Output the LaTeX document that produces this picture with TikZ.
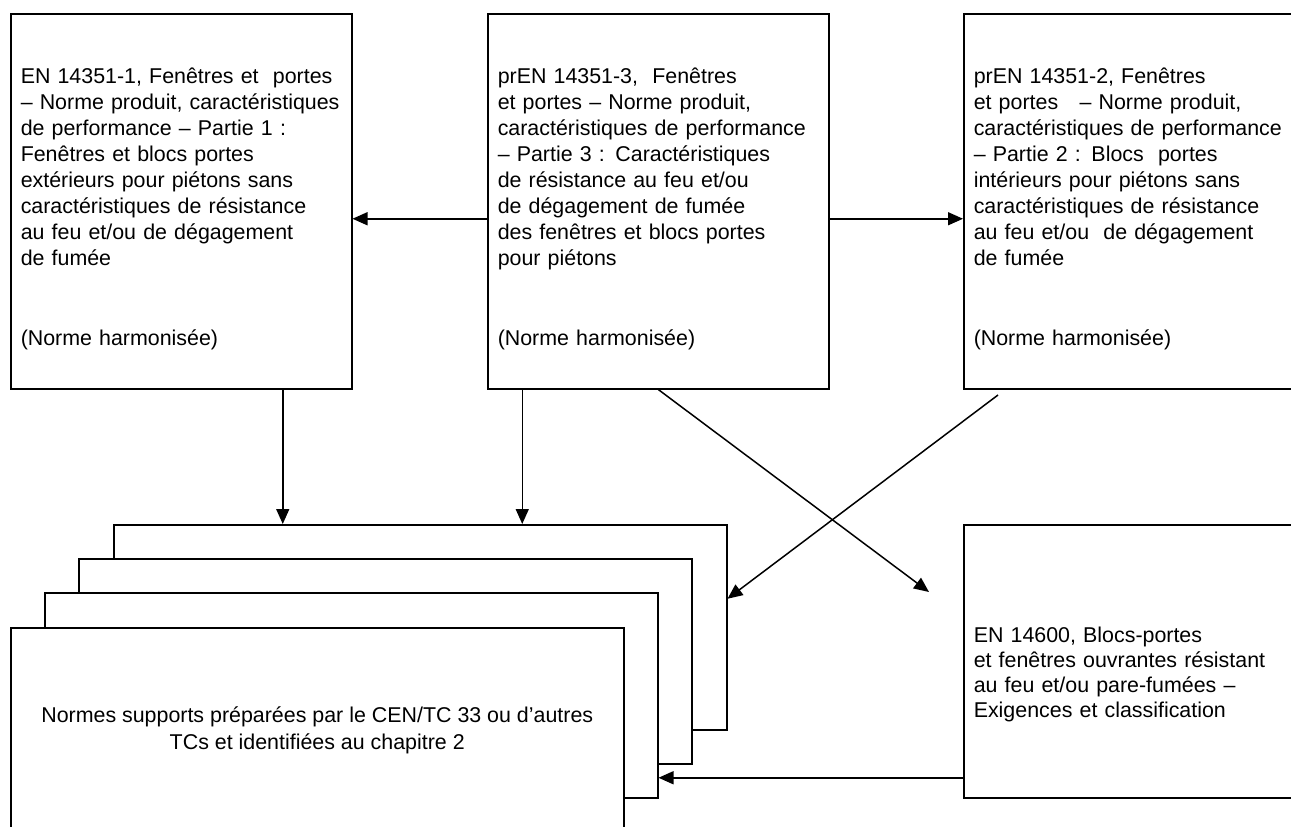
\documentclass[tikz,border=0pt]{standalone}
\usepackage{fontspec}
\setmainfont{Liberation Sans}
\usetikzlibrary{positioning, arrows.meta}
\hyphenpenalty=10000
\exhyphenpenalty=10000
\newcommand{\topgap}[1]{\rule{0pt}{#1}}
\tikzset{
  box/.style={draw, line width=1.5pt, fill=white, anchor=north west,
    inner xsep=10pt, inner ysep=0pt, align=left},
  part/.style={box, minimum width=341pt, minimum height=375pt, text width=321pt},
  sup/.style={box, minimum width=613pt, minimum height=205pt},
  arr/.style={line width=1.5pt, -{Triangle[length=15pt, width=13pt]}},
}

\begin{document}
\begin{tikzpicture}[x=1pt, y=-1pt, font=\fontsize{21.4}{26}\selectfont]
\useasboundingbox (0,0) rectangle (1291,827);

% normes produit
\node[part] (part1) at (10,13) {\topgap{31pt}EN 14351-1, Fenêtres et\ \ portes\\
– Norme produit, caractéristiques\\
de performance – Partie 1 :\\
Fenêtres et blocs portes\\
extérieurs pour piétons sans\\
caractéristiques de résistance\\
au feu et/ou de dégagement\\
de fumée\\[54pt]
(Norme harmonisée)};

\node[part] (part3) at (487,13) {\topgap{31pt}prEN 14351-3,\ \ Fenêtres\\
et portes – Norme produit,\\
caractéristiques de performance\\
– Partie 3 : Caractéristiques\\
de résistance au feu et/ou\\
de dégagement de fumée\\
des fenêtres et blocs portes\\
pour piétons\\[54pt]
(Norme harmonisée)};

\node[part] (part2) at (963,13) {\topgap{31pt}prEN 14351-2, Fenêtres\\
et portes\ \ \ – Norme produit,\\
caractéristiques de performance\\
– Partie 2 : Blocs\ \ portes\\
intérieurs pour piétons sans\\
caractéristiques de résistance\\
au feu et/ou\ \ de dégagement\\
de fumée\\[54pt]
(Norme harmonisée)};

% normes supports (pile)
\node[sup] (supD) at (113,524) {};
\node[sup] (supC) at (78,558) {};
\node[sup] (supB) at (44,592) {};
\node[sup, align=center, font=\fontsize{21.4}{27}\selectfont] (supA) at (10,627)
  {Normes supports préparées par le CEN/TC 33 ou d’autres\\
   TCs et identifiées au chapitre 2};

\node[box, minimum width=341pt, minimum height=273pt, text width=321pt,
  font=\fontsize{21.4}{25}\selectfont] (en14600) at (963,524)
  {\topgap{41pt}EN 14600, Blocs-portes\\
   et fenêtres ouvrantes résistant\\
   au feu et/ou pare-fumées –\\
   Exigences et classification};

% fleches
\draw[arr] ([yshift=-17.5pt]part3.west) -- ([yshift=-17.5pt]part1.east);
\draw[arr] ([yshift=-17.5pt]part3.east) -- ([yshift=-17.5pt]part2.west);

\coordinate (a1) at ([xshift=101.5pt]part1.south);
\coordinate (a3) at ([xshift=-136pt]part3.south);
\draw[arr] (a1) -- (a1 |- supD.north);
\draw[arr] (a3) -- (a3 |- supD.north);

\coordinate (x1) at (929,592);
\coordinate (x2) at (998,395);
\draw[arr] (part3.south) -- (x1);
\draw[arr] (x2) -- ([yshift=28.5pt]supD.east);

\coordinate (e1) at ([yshift=-116.5pt]en14600.west);
\draw[arr] (e1) -- (e1 -| supB.east);

\end{tikzpicture}
\end{document}
